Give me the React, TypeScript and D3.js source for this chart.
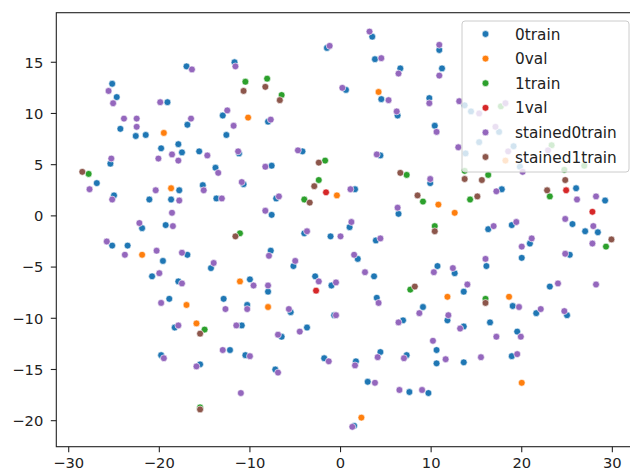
import React from 'react';
import * as d3 from 'd3';

const seriesNames = ['0train', '0val', '1train', '1val', 'stained0train', 'stained1train'];
const seriesColors = ['#1f77b4', '#ff7f0e', '#2ca02c', '#d62728', '#9467bd', '#8c564b'];

const train0: [number, number][] = [
  [-17.0, 14.6], [-25.2, 12.9], [-24.7, 11.6], [-19.1, 11.1], [-24.3, 8.5], [-22.6, 7.8], [-21.5, 7.9],
  [-16.9, 8.9], [-19.8, 6.6], [-17.9, 7.0], [-17.5, 6.2], [-1.5, 16.4], [-11.7, 15.0], [-13.0, 9.8],
  [-8.0, 9.2], [-12.6, 7.9], [-15.6, 6.3], [-11.2, 6.1], [-4.2, 6.3], [3.5, 17.5], [3.8, 15.3],
  [10.9, 16.2], [6.6, 14.4], [11.2, 14.4], [0.6, 12.3], [4.5, 11.4], [9.8, 11.5], [6.3, 9.8],
  [10.4, 8.8], [4.4, 5.9], [13.7, 10.8], [14.4, 10.2], [15.3, 7.2], [13.8, 6.1], [17.5, 8.2],
  [19.1, 6.8], [19.8, 4.8], [-25.4, 5.1], [-26.9, 3.2], [-25.0, 2.0], [-17.8, 2.5], [-21.1, 1.6],
  [-18.7, 1.6], [-21.9, -1.2], [-19.3, -0.9], [-25.2, -2.9], [-23.5, -2.9], [-19.6, -4.4], [-16.9, -3.8],
  [-20.8, -5.9], [-17.9, -6.4], [-18.9, -8.1], [-13.8, 4.7], [-7.6, 4.9], [-15.2, 3.0], [-10.7, 3.1],
  [-13.7, 1.7], [-7.1, 1.7], [-7.6, 0.1], [-4.0, -1.7], [-1.1, -2.0], [-7.7, -3.4], [-14.3, -5.1],
  [-5.2, -4.9], [-10.0, -6.2], [-8.0, -7.4], [-2.8, -5.9], [-1.0, -6.8], [-12.9, -8.1], [-10.3, -8.7],
  [9.9, 3.2], [1.6, 2.6], [6.4, 0.2], [1.0, -1.1], [3.9, -2.4], [1.9, -4.2], [10.7, -4.9], [12.6, -5.6],
  [3.7, -5.9], [13.6, -7.4], [4.0, -8.0], [9.1, -8.9], [17.8, 2.6], [26.0, 2.7], [29.2, 1.5],
  [25.6, -0.8], [16.3, -1.3], [18.9, -0.9], [27.0, -1.5], [28.4, -1.6], [20.9, -2.7], [25.3, -3.8],
  [16.1, -4.9], [20.0, -4.1], [23.1, -6.9], [19.0, -8.8], [-18.3, -10.9], [-19.8, -13.6], [-5.5, -9.4],
  [-0.7, -9.7], [-10.9, -10.7], [-6.5, -11.8], [-3.7, -10.9], [-12.2, -13.1], [-10.5, -13.6],
  [-1.8, -13.9], [-15.5, -14.5], [-7.2, -15.0], [11.8, -10.2], [6.9, -10.2], [13.6, -10.8],
  [10.6, -13.1], [4.4, -13.3], [7.3, -13.6], [1.7, -14.2], [10.6, -14.4], [13.6, -14.3], [3.0, -16.2],
  [7.6, -17.2], [9.7, -17.3], [1.5, -20.5], [21.6, -9.5], [25.0, -9.7], [16.5, -10.4], [19.5, -11.3],
  [18.9, -13.7],
];

const val0: [number, number][] = [
  [-19.5, 8.1], [-10.2, 9.6], [4.2, 12.1], [-18.7, 2.7], [-21.9, -3.8], [-17.0, -8.7], [-0.4, 2.0],
  [-11.1, -6.4], [-8.0, -8.9], [10.8, 1.1], [12.6, 0.3], [11.8, -7.9], [18.6, -7.9], [-15.9, -10.5],
  [2.3, -19.7], [20.0, -16.3], [18.2, 5.4],
];

const train1: [number, number][] = [
  [-10.5, 13.1], [-8.1, 13.4], [-6.5, 11.8], [-1.7, 5.4], [-27.8, 4.1], [-2.4, 3.5], [-4.0, 1.6],
  [-11.1, -1.7], [7.3, 4.0], [9.1, 1.4], [14.3, 1.6], [10.4, -1.0], [7.7, -7.2], [16.3, 4.0],
  [23.1, 1.9], [29.3, -3.0], [16.0, -8.1], [-15.0, -11.1], [-15.5, -18.7], [17.7, 10.7], [23.3, 6.9],
  [13.7, 4.4], [24.7, 4.5], [26.9, 4.9],
];

const val1: [number, number][] = [[-1.6, 2.3], [-2.7, -7.3], [24.9, 2.5], [27.8, 0.4]];

const stained0: [number, number][] = [
  [-25.6, 12.2], [-25.1, 11.0], [-19.9, 11.1], [-23.9, 9.5], [-22.5, 9.5], [-22.5, 8.7], [-18.6, 6.0],
  [-25.3, 5.6], [-20.1, 5.6], [-17.9, 5.4], [-16.4, 14.3], [-1.2, 16.6], [-11.6, 14.6], [-12.5, 10.3],
  [-7.7, 9.4], [-16.5, 9.5], [-11.8, 8.8], [-14.7, 5.9], [-11.3, 6.3], [-4.7, 6.4], [3.2, 18.0],
  [4.5, 15.4], [10.9, 16.7], [6.4, 13.9], [10.9, 13.7], [0.2, 12.5], [5.3, 11.3], [9.8, 11.0],
  [6.2, 10.2], [10.6, 8.2], [13.1, 11.2], [13.0, 6.7], [4.0, 6.0], [15.3, 10.0], [18.2, 11.0],
  [17.1, 8.7], [18.5, 6.3], [22.9, 6.4], [20.1, 4.3], [-27.7, 2.6], [-25.2, 1.6], [-20.4, 2.5],
  [-17.8, 1.5], [-18.6, 0.3], [-22.2, -0.7], [-18.5, -1.0], [-25.8, -2.5], [-23.8, -3.8], [-20.3, -3.4],
  [-17.5, -3.6], [-20.0, -5.6], [-17.5, -6.6], [-19.8, -8.5], [-13.5, 4.2], [-8.3, 4.8], [-15.1, 2.5],
  [-10.9, 3.3], [-13.1, 1.7], [-6.8, 1.9], [-8.3, 0.5], [-3.7, -1.5], [-7.9, -3.9], [-14.0, -4.6],
  [-5.0, -4.4], [-9.6, -6.8], [-8.0, -6.8], [-2.4, -6.4], [9.9, 3.6], [1.1, 2.6], [6.3, 0.8],
  [1.2, -0.6], [0.0, -2.0], [4.4, -2.2], [1.5, -3.8], [10.3, -5.5], [12.4, -5.1], [2.7, -5.5],
  [-0.5, -6.5], [14.0, -6.7], [4.2, -8.5], [17.2, 2.4], [26.1, 1.6], [28.2, 1.9], [24.8, -0.3],
  [16.9, -1.0], [19.4, -0.6], [27.9, -1.0], [21.1, -2.2], [20.0, -3.0], [27.8, -2.7], [24.8, -3.7],
  [16.0, -4.2], [24.0, -6.6], [28.2, -6.7], [19.7, -8.9], [22.1, -9.1], [24.7, -9.3], [-17.9, -10.7],
  [-19.5, -13.9], [-12.7, -9.1], [-10.3, -9.1], [-5.7, -9.1], [-0.5, -9.7], [-11.5, -10.7],
  [-6.9, -11.6], [-4.5, -11.3], [-13.0, -13.1], [-10.0, -13.7], [-1.3, -14.2], [-15.9, -14.7],
  [-6.9, -15.3], [-11.0, -17.3], [8.7, -9.5], [11.9, -9.7], [6.4, -10.4], [13.2, -11.0], [10.2, -12.2],
  [4.1, -13.8], [7.0, -13.9], [1.6, -14.6], [11.6, -14.0], [15.5, -13.8], [3.8, -16.3], [6.5, -17.0],
  [9.0, -17.0], [1.3, -20.6], [17.2, -11.8], [19.9, -11.8], [19.5, -13.5],
];

const stained1: [number, number][] = [
  [-10.7, 12.2], [-8.3, 12.6], [-6.7, 11.3], [-2.4, 5.2], [-28.5, 4.3], [-2.9, 2.9], [-3.4, 1.3],
  [-11.6, -2.0], [6.6, 4.2], [13.7, 3.6], [15.6, 3.5], [8.5, 2.0], [15.1, 1.9], [10.4, -1.5],
  [8.2, -6.9], [22.8, 2.5], [24.8, 3.5], [29.9, -2.3], [16.0, -8.5], [-15.5, -11.5], [-15.5, -18.9],
];

const seriesData = [train0, val0, train1, val1, stained0, stained1];

const xTicks = [-30, -20, -10, 0, 10, 20, 30];
const yTicks = [-20, -15, -10, -5, 0, 5, 10, 15];

const W = 630;
const H = 472;
// the right spine sits just outside the cropped picture
const margin = { left: 56.3, right: 634, top: 12.7, bottom: 446.7 };
const font = "'DejaVu Sans', sans-serif";

const fmt = (v: number) => (v < 0 ? '\u2212' + Math.abs(v) : String(v));

export default function App() {
  const x = d3.scaleLinear().domain([-31.37, 32.39]).range([margin.left, margin.right]);
  const y = d3.scaleLinear().domain([-22.54, 19.84]).range([margin.bottom, margin.top]);

  const legend = { x: 462, y: 21, w: 167, h: 151, row0: 34, step: 24.6 };

  return (
    <svg width={W} height={H} style={{ position: 'absolute', left: 0, top: 0, background: '#fff' }}
      fontFamily={font}>
      <rect x={0} y={0} width={W} height={H} fill="#fff" />

      {/* points */}
      {seriesData.map((pts, si) => (
        <g key={si}>
          {pts.map((d, i) => (
            <circle key={i} cx={x(d[0])} cy={y(d[1])} r={3.4} fill={seriesColors[si]}
              stroke="#fff" strokeWidth={0.6} />
          ))}
        </g>
      ))}

      {/* spines */}
      <rect x={margin.left} y={margin.top} width={margin.right - margin.left}
        height={margin.bottom - margin.top} fill="none" stroke="#222" strokeWidth={1.1} />

      {/* x axis */}
      {xTicks.map(t => (
        <g key={t} transform={`translate(${x(t)},${margin.bottom})`}>
          <line y1={0} y2={5.5} stroke="#222" strokeWidth={1.1} />
          <text y={21.5} textAnchor="middle" fontSize={14.7} fill="#222">{fmt(t)}</text>
        </g>
      ))}

      {/* y axis */}
      {yTicks.map(t => (
        <g key={t} transform={`translate(${margin.left},${y(t)})`}>
          <line x1={0} x2={-5.5} stroke="#222" strokeWidth={1.1} />
          <text x={-13} dy="0.36em" textAnchor="end" fontSize={14.7} fill="#222">{fmt(t)}</text>
        </g>
      ))}

      {/* legend */}
      <rect x={legend.x} y={legend.y} width={legend.w} height={legend.h} rx={3}
        fill="#fff" fillOpacity={0.8} stroke="#cccccc" strokeWidth={1} />
      {seriesNames.map((name, i) => (
        <g key={name} transform={`translate(${legend.x},${legend.row0 + i * legend.step})`}>
          <circle cx={23.5} cy={0} r={3.4} fill={seriesColors[i]} stroke="#fff" strokeWidth={0.6} />
          <text x={53} dy="0.36em" fontSize={15.3} fill="#222">{name}</text>
        </g>
      ))}
    </svg>
  );
}
